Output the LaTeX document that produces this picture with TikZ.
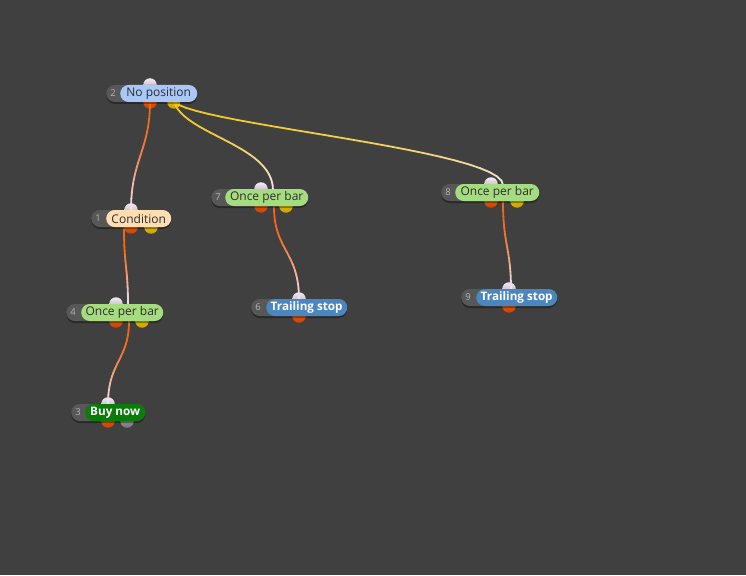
\documentclass[tikz,border=0pt]{standalone}
\usepackage{fontspec}
\setmainfont{Open Sans}
\usetikzlibrary{calc}
\definecolor{bgc}{HTML}{404040}
\definecolor{backc}{HTML}{575757}
\definecolor{numc}{HTML}{B4B4B4}
\definecolor{txtc}{HTML}{2E2E2E}
\definecolor{bluep}{HTML}{A9C8F8}
\definecolor{peachp}{HTML}{FFDFB2}
\definecolor{greenp}{HTML}{A6DC80}
\definecolor{darkgreen}{HTML}{0A7C0A}
\definecolor{steelp}{HTML}{4C86BE}
\definecolor{orangel}{HTML}{F06414}
\definecolor{yellowl}{HTML}{F2C81A}
\definecolor{endl}{HTML}{F2E4F2}
\definecolor{inTop}{HTML}{F4EAF6}
\definecolor{inBot}{HTML}{B0A0B8}
\definecolor{orTop}{HTML}{F56A10}
\definecolor{orBot}{HTML}{C94200}
\definecolor{yeTop}{HTML}{F5D000}
\definecolor{yeBot}{HTML}{C9A000}
\definecolor{grTop}{HTML}{A8A8A8}
\definecolor{grBot}{HTML}{767676}
\tikzset{
  backpill/.style={rounded corners=8.5pt, fill=backc, minimum height=17pt, inner sep=0pt, anchor=west},
  shadowpill/.style={rounded corners=8.5pt, fill=black, fill opacity=0.35, minimum height=18pt, inner sep=0pt, anchor=west},
  pill/.style={rounded corners=8.5pt, minimum height=17pt, inner sep=0pt, anchor=west, font=\fontsize{12}{13}\selectfont, text=txtc},
  boldpill/.style={pill, text=white, font=\fontsize{11.7}{13}\selectfont\bfseries},
  numtext/.style={font=\fontsize{9.5}{10}\selectfont, text=numc, inner sep=0pt},
  port/.style={circle, minimum size=13.5pt, inner sep=0pt},
  inport/.style={port, top color=inTop, bottom color=inBot},
  orport/.style={port, top color=orTop, bottom color=orBot},
  yeport/.style={port, top color=yeTop, bottom color=yeBot},
  grport/.style={port, top color=grTop, bottom color=grBot},
  link/.style={line width=1.8pt, line cap=round},
}
% cubic bezier drawn in pieces, colour going from #5 to #6
\newcommand{\gradcurve}[6]{%
  \foreach \k in {0,...,24}{%
    \pgfmathsetmacro{\gt}{\k/24}%
    \coordinate (qa) at ($(#1)!\gt!(#2)$);
    \coordinate (qb) at ($(#2)!\gt!(#3)$);
    \coordinate (qc) at ($(#3)!\gt!(#4)$);
    \coordinate (ra) at ($(qa)!\gt!(qb)$);
    \coordinate (rb) at ($(qb)!\gt!(qc)$);
    \coordinate (gp\k) at ($(ra)!\gt!(rb)$);
  }%
  \foreach \k in {1,...,24}{%
    \pgfmathtruncatemacro{\km}{\k-1}%
    \pgfmathtruncatemacro{\pc}{100-100*((\k-0.5)/24)^2}%
    \draw[link, draw={#5!\pc!#6}] (gp\km) -- (gp\k);
  }%
}
\begin{document}
\begin{tikzpicture}[x=1pt,y=-1pt]
\useasboundingbox (0,0) rectangle (746,575);
\fill[bgc] (0,0) rectangle (746,575);

% ---------- ports (drawn behind the pills) ----------
% node 2
\node[inport] (i2) at (150,85) {};
\node[orport] (o2a) at (150,102) {};
\node[yeport] (o2b) at (174,102) {};
% node 1
\node[inport] (i1) at (131,210) {};
\node[orport] (o1a) at (131,227) {};
\node[yeport] (o1b) at (151,227) {};
% node 4
\node[inport] (i4) at (116,304) {};
\node[orport] (o4a) at (116,321) {};
\node[yeport] (o4b) at (142,321) {};
% node 3
\node[inport] (i3) at (108,404) {};
\node[orport] (o3a) at (108,421) {};
\node[grport] (o3b) at (127,421) {};
% node 7
\node[inport] (i7) at (261,189) {};
\node[orport] (o7a) at (261,206) {};
\node[yeport] (o7b) at (286,206) {};
% node 6
\node[inport] (i6) at (299,299) {};
\node[orport] (o6a) at (299,316) {};
% node 8
\node[inport] (i8) at (491,184) {};
\node[orport] (o8a) at (491,201) {};
\node[yeport] (o8b) at (517,201) {};
% node 9
\node[inport] (i9) at (509,289) {};
\node[orport] (o9a) at (509,306) {};

% ---------- free ends of connectors ----------
\coordinate (s1) at (124,229);
\coordinate (e4) at (128,305);
\coordinate (s4) at (129,321);
\coordinate (e7) at (273,190);
\coordinate (s7) at (274,207);
\coordinate (e8) at (503,185);
\coordinate (s8) at (503,202);
\coordinate (e9) at (511,290);

% ---------- connectors ----------
\gradcurve{o2a.center}{150,150}{131,160}{i1.center}{orangel}{endl}
\gradcurve{o2b.center}{185,135}{273,145}{e7}{yellowl}{endl}
\gradcurve{o2b.center}{200,125}{503,150}{e8}{yellowl}{endl}
\gradcurve{s1}{124,265}{128,268}{e4}{orangel}{endl}
\gradcurve{s4}{129,360}{108,362}{i3.center}{orangel}{endl}
\gradcurve{s7}{274,250}{299,252}{i6.center}{orangel}{endl}
\gradcurve{s8}{503,245}{511,248}{e9}{orangel}{endl}

% ---------- node bodies ----------
% node 2
\node[shadowpill, minimum width=91pt] (sh2) at (106,95) {};
\node[backpill, minimum width=91pt] (b2) at (106,93.5) {};
\node[pill, fill=bluep, minimum width=77pt] (n2) at (120,93.5) {No position};
\node[numtext] (k2) at (113,93.5) {2};
% node 1
\node[shadowpill, minimum width=80pt] (sh1) at (91,220) {};
\node[backpill, minimum width=80pt] (b1) at (91,218.5) {};
\node[pill, fill=peachp, minimum width=65pt] (n1) at (106,218.5) {Condition};
\node[numtext] (k1) at (98,218.5) {1};
% node 4
\node[shadowpill, minimum width=97pt] (sh4) at (66,314) {};
\node[backpill, minimum width=97pt] (b4) at (66,312.5) {};
\node[pill, fill=greenp, minimum width=82pt] (n4) at (81,312.5) {Once per bar};
\node[numtext] (k4) at (73,312.5) {4};
% node 3
\node[shadowpill, minimum width=74pt] (sh3) at (71,414) {};
\node[backpill, minimum width=74pt] (b3) at (71,412.5) {};
\node[boldpill, fill=darkgreen, minimum width=60pt] (n3) at (85,412.5) {Buy now};
\node[numtext] (k3) at (78,412.5) {3};
% node 7
\node[shadowpill, minimum width=97pt] (sh7) at (211,199) {};
\node[backpill, minimum width=97pt] (b7) at (211,197.5) {};
\node[pill, fill=greenp, minimum width=83pt] (n7) at (225,197.5) {Once per bar};
\node[numtext] (k7) at (218,197.5) {7};
% node 6
\node[shadowpill, minimum width=96pt] (sh6) at (251,309) {};
\node[backpill, minimum width=96pt] (b6) at (251,307.5) {};
\node[boldpill, fill=steelp, minimum width=81pt] (n6) at (266,307.5) {Trailing stop};
\node[numtext] (k6) at (258,307.5) {6};
% node 8
\node[shadowpill, minimum width=98pt] (sh8) at (441,194) {};
\node[backpill, minimum width=98pt] (b8) at (441,192.5) {};
\node[pill, fill=greenp, minimum width=84pt] (n8) at (455,192.5) {Once per bar};
\node[numtext] (k8) at (448,192.5) {8};
% node 9
\node[shadowpill, minimum width=96pt] (sh9) at (461,299) {};
\node[backpill, minimum width=96pt] (b9) at (461,297.5) {};
\node[boldpill, fill=steelp, minimum width=81pt] (n9) at (476,297.5) {Trailing stop};
\node[numtext] (k9) at (468,297.5) {9};
\end{tikzpicture}
\end{document}
